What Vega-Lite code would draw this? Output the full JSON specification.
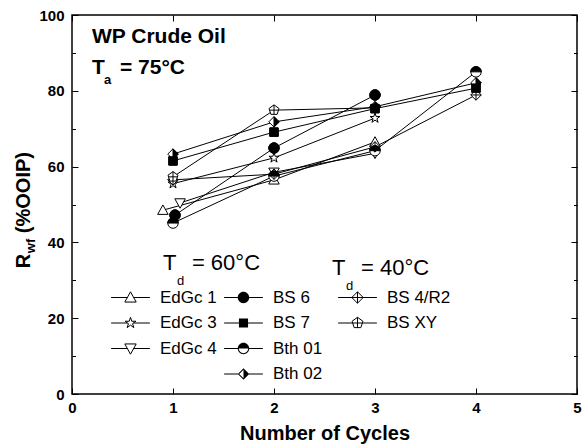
{
  "$schema": "https://vega.github.io/schema/vega-lite/v6.json",
  "width": 505,
  "height": 379,
  "autosize": {"type": "none"},
  "padding": {"left": 72, "top": 15, "right": 5, "bottom": 54},
  "background": "white",
  "data": {"values": [
    {"series": "EdGc 1", "cycle": 0.9, "rwf": 48.5},
    {"series": "EdGc 1", "cycle": 2, "rwf": 56.5},
    {"series": "EdGc 1", "cycle": 3, "rwf": 66.5},
    {"series": "EdGc 3", "cycle": 1, "rwf": 55.5},
    {"series": "EdGc 3", "cycle": 2, "rwf": 62.3},
    {"series": "EdGc 3", "cycle": 3, "rwf": 72.8},
    {"series": "EdGc 4", "cycle": 1.07, "rwf": 50.4},
    {"series": "EdGc 4", "cycle": 2, "rwf": 58.5},
    {"series": "EdGc 4", "cycle": 3, "rwf": 63.5},
    {"series": "BS 6", "cycle": 1.02, "rwf": 47.2},
    {"series": "BS 6", "cycle": 2, "rwf": 64.9},
    {"series": "BS 6", "cycle": 3, "rwf": 78.9},
    {"series": "BS 7", "cycle": 1, "rwf": 61.5},
    {"series": "BS 7", "cycle": 2, "rwf": 69.1},
    {"series": "BS 7", "cycle": 3, "rwf": 75.3},
    {"series": "BS 7", "cycle": 4, "rwf": 80.7},
    {"series": "Bth 01", "cycle": 1, "rwf": 45.1},
    {"series": "Bth 01", "cycle": 2, "rwf": 57.5},
    {"series": "Bth 01", "cycle": 3, "rwf": 64.2},
    {"series": "Bth 01", "cycle": 4, "rwf": 85.0},
    {"series": "Bth 02", "cycle": 1, "rwf": 63.3},
    {"series": "Bth 02", "cycle": 2, "rwf": 71.8},
    {"series": "Bth 02", "cycle": 3, "rwf": 75.8},
    {"series": "Bth 02", "cycle": 4, "rwf": 82.1},
    {"series": "BS 4/R2", "cycle": 1, "rwf": 56.5},
    {"series": "BS 4/R2", "cycle": 2, "rwf": 58.0},
    {"series": "BS 4/R2", "cycle": 3, "rwf": 65.2},
    {"series": "BS 4/R2", "cycle": 4, "rwf": 78.9},
    {"series": "BS XY", "cycle": 1, "rwf": 57.3},
    {"series": "BS XY", "cycle": 2, "rwf": 74.9},
    {"series": "BS XY", "cycle": 3, "rwf": 75.5}
  ]},
  "layer": [
    {
      "mark": {"type": "line", "color": "black", "strokeWidth": 1},
      "encoding": {
        "x": {"field": "cycle", "type": "quantitative", "scale": {"domain": [0, 5], "nice": false},
              "axis": {"orient": "bottom", "values": [0, 1, 2, 3, 4, 5], "tickSize": -6, "labelPadding": 12, "labelFlush": false, "title": "Number of Cycles", "titleFontSize": 20, "titleFontWeight": "bold", "titlePadding": 8}},
        "y": {"field": "rwf", "type": "quantitative", "scale": {"domain": [0, 100], "nice": false},
              "axis": {"orient": "left", "values": [0, 20, 40, 60, 80, 100], "tickSize": -6, "labelPadding": 14, "labelFlush": false, "title": null}},
        "detail": {"field": "series"}
      }
    },
    {
      "mark": {"type": "point", "filled": true, "fill": "white", "stroke": "black", "strokeWidth": 1, "size": 110, "opacity": 1},
      "encoding": {
        "x": {"field": "cycle", "type": "quantitative", "scale": {"domain": [0, 5], "nice": false},
              "axis": {"orient": "top", "values": [0, 1, 2, 3, 4, 5], "tickSize": -6, "labels": false, "title": null}},
        "y": {"field": "rwf", "type": "quantitative", "scale": {"domain": [0, 100], "nice": false},
              "axis": {"orient": "right", "values": [0, 20, 40, 60, 80, 100], "tickSize": -6, "labels": false, "title": null}},
        "shape": {"field": "series", "type": "nominal", "legend": null,
          "scale": {
            "domain": ["EdGc 1", "EdGc 3", "EdGc 4", "BS 6", "BS 7", "Bth 01", "Bth 02", "BS 4/R2", "BS XY"],
            "range": [
              "M0,-1L1,0.8L-1,0.8Z",
              "M0,-1L0.223,-0.307L0.951,-0.309L0.361,0.117L0.588,0.809L0,0.38L-0.588,0.809L-0.361,0.117L-0.951,-0.309L-0.223,-0.307Z",
              "M0,1L1,-0.8L-1,-0.8Z",
              "M-1,0A1,1 0 1 1 1,0A1,1 0 1 1 -1,0Z",
              "M-0.8,-0.8L0.8,-0.8L0.8,0.8L-0.8,0.8Z",
              "M-1,0A1,1 0 1 1 1,0A1,1 0 1 1 -1,0Z",
              "M0,-1L1,0L0,1L-1,0Z",
              "M0,-1L1,0L0,1L-1,0ZM0,-1L0,1M-1,0L1,0",
              "M0,-1L0.951,-0.309L0.588,0.809L-0.588,0.809L-0.951,-0.309ZM0,-1L0,0.809M-0.851,0L0.851,0"
            ]}}
      }
    },
    {
      "transform": [{"filter": {"field": "series", "oneOf": ["BS 6", "BS 7", "Bth 01", "Bth 02"]}}],
      "mark": {"type": "point", "filled": true, "fill": "black", "stroke": "black", "strokeWidth": 1, "size": 110, "opacity": 1},
      "encoding": {
        "x": {"field": "cycle", "type": "quantitative", "scale": {"domain": [0, 5], "nice": false}, "axis": null},
        "y": {"field": "rwf", "type": "quantitative", "scale": {"domain": [0, 100], "nice": false},
              "axis": {"orient": "left", "values": [10, 30, 50, 70, 90], "tickSize": -3.5, "labels": false, "title": null}},
        "shape": {"field": "series", "type": "nominal", "legend": null,
          "scale": {
            "domain": ["BS 6", "BS 7", "Bth 01", "Bth 02"],
            "range": [
              "M-1,0A1,1 0 1 1 1,0A1,1 0 1 1 -1,0Z",
              "M-0.8,-0.8L0.8,-0.8L0.8,0.8L-0.8,0.8Z",
              "M-1,0A1,1 0 0 1 1,0Z",
              "M0,-1L1,0L0,1Z"
            ]}}
      }
    },
    {
      "transform": [{"filter": "false"}],
      "mark": {"type": "point", "filled": false, "color": "black", "strokeWidth": 1, "opacity": 1},
      "encoding": {
        "x": {"field": "cycle", "type": "quantitative", "scale": {"domain": [0, 5], "nice": false}, "axis": null},
        "y": {"field": "rwf", "type": "quantitative", "scale": {"domain": [0, 100], "nice": false},
              "axis": {"orient": "right", "values": [10, 30, 50, 70, 90], "tickSize": -3.5, "labels": false, "title": null}},
        "shape": {"field": "series", "type": "nominal",
          "scale": {
            "domain": ["EdGc 1", "EdGc 3", "EdGc 4"],
            "range": [
              "M-3.4,0L-0.556,0M0.556,0L3.4,0M0,-1L1,0.8L-1,0.8Z",
              "M-3.4,0L-0.52,0M0.52,0L3.4,0M0,-1L0.223,-0.307L0.951,-0.309L0.361,0.117L0.588,0.809L0,0.38L-0.588,0.809L-0.361,0.117L-0.951,-0.309L-0.223,-0.307Z",
              "M-3.4,0L-0.556,0M0.556,0L3.4,0M0,1L1,-0.8L-1,-0.8Z"
            ]},
          "legend": {"orient": "none", "legendX": 50, "legendY": 274, "title": null, "symbolSize": 130, "symbolStrokeWidth": 1, "labelOffset": 21, "rowPadding": 7.5, "padding": 0}}
      }
    },
    {
      "transform": [{"filter": "false"}],
      "mark": {"type": "point", "filled": true, "color": "black", "opacity": 1},
      "encoding": {
        "shape": {"field": "series", "type": "nominal",
          "scale": {
            "domain": ["BS 6", "BS 7", "Bth 01", "Bth 02"],
            "range": [
              "M-3.4,-0.09L3.4,-0.09L3.4,0.09L-3.4,0.09ZM-1,0A1,1 0 1 1 1,0A1,1 0 1 1 -1,0Z",
              "M-3.4,-0.09L3.4,-0.09L3.4,0.09L-3.4,0.09ZM-0.8,-0.8L0.8,-0.8L0.8,0.8L-0.8,0.8Z",
              "M-3.4,-0.09L-0.95,-0.09L-0.95,0.09L-3.4,0.09ZM0.95,-0.09L3.4,-0.09L3.4,0.09L0.95,0.09ZM-1,0A1,1 0 0 1 1,0ZM1,0A1,1 0 0 1 -1,0L-0.82,0A0.82,0.82 0 0 0 0.82,0Z",
              "M-3.4,-0.09L-0.95,-0.09L-0.95,0.09L-3.4,0.09ZM0.95,-0.09L3.4,-0.09L3.4,0.09L0.95,0.09ZM0,-1L1,0L0,1ZM0,-1L-1,0L0,1L0,0.75L-0.75,0L0,-0.75Z"
            ]},
          "legend": {"orient": "none", "legendX": 163, "legendY": 274, "title": null, "symbolSize": 130, "symbolStrokeWidth": 0, "labelOffset": 21, "rowPadding": 7.5, "padding": 0}}
      }
    },
    {
      "transform": [{"filter": "false"}],
      "mark": {"type": "point", "filled": false, "color": "black", "strokeWidth": 1, "opacity": 1},
      "encoding": {
        "shape": {"field": "series", "type": "nominal",
          "scale": {
            "domain": ["BS 4/R2", "BS XY"],
            "range": [
              "M-3.4,0L3.4,0M0,-1L1,0L0,1L-1,0ZM0,-1L0,1",
              "M-3.4,0L-0.851,0M0.851,0L3.4,0M0,-1L0.951,-0.309L0.588,0.809L-0.588,0.809L-0.951,-0.309ZM0,-1L0,0.809M-0.851,0L0.851,0"
            ]},
          "legend": {"orient": "none", "legendX": 277, "legendY": 274, "title": null, "symbolSize": 130, "symbolStrokeWidth": 1, "labelOffset": 21, "rowPadding": 7.5, "padding": 0}}
      }
    },
    {
      "data": {"values": [{}]},
      "mark": {"type": "text", "text": "WP Crude Oil", "font": "Liberation Sans", "fontSize": 21, "fontWeight": "bold", "align": "left", "baseline": "alphabetic", "color": "black"},
      "encoding": {
        "x": {"datum": 0.198, "type": "quantitative", "scale": {"domain": [0, 5], "nice": false}, "axis": null},
        "y": {"datum": 92.6, "type": "quantitative", "scale": {"domain": [0, 100], "nice": false}, "axis": null}
      }
    },
    {
      "data": {"values": [{}]},
      "mark": {"type": "text", "text": "T", "font": "Liberation Sans", "fontSize": 21, "fontWeight": "bold", "align": "left", "baseline": "alphabetic", "color": "black"},
      "encoding": {
        "x": {"datum": 0.198, "type": "quantitative", "scale": {"domain": [0, 5], "nice": false}, "axis": null},
        "y": {"datum": 84.4, "type": "quantitative", "scale": {"domain": [0, 100], "nice": false}, "axis": null}
      }
    },
    {
      "data": {"values": [{}]},
      "mark": {"type": "text", "text": "a", "font": "Liberation Sans", "fontSize": 13, "fontWeight": "bold", "align": "left", "baseline": "alphabetic", "color": "black", "dx": 12, "dy": 10},
      "encoding": {
        "x": {"datum": 0.198, "type": "quantitative", "scale": {"domain": [0, 5], "nice": false}, "axis": null},
        "y": {"datum": 84.4, "type": "quantitative", "scale": {"domain": [0, 100], "nice": false}, "axis": null}
      }
    },
    {
      "data": {"values": [{}]},
      "mark": {"type": "text", "text": "= 75°C", "font": "Liberation Sans", "fontSize": 21, "fontWeight": "bold", "align": "left", "baseline": "alphabetic", "color": "black", "dx": 28},
      "encoding": {
        "x": {"datum": 0.198, "type": "quantitative", "scale": {"domain": [0, 5], "nice": false}, "axis": null},
        "y": {"datum": 84.4, "type": "quantitative", "scale": {"domain": [0, 100], "nice": false}, "axis": null}
      }
    },
    {
      "data": {"values": [{}]},
      "mark": {"type": "text", "text": "T", "font": "Liberation Sans", "fontSize": 22, "align": "left", "baseline": "alphabetic", "color": "black"},
      "encoding": {
        "x": {"datum": 0.9, "type": "quantitative", "scale": {"domain": [0, 5], "nice": false}, "axis": null},
        "y": {"datum": 32.7, "type": "quantitative", "scale": {"domain": [0, 100], "nice": false}, "axis": null}
      }
    },
    {
      "data": {"values": [{}]},
      "mark": {"type": "text", "text": "d", "font": "Liberation Sans", "fontSize": 13, "align": "left", "baseline": "alphabetic", "color": "black", "dx": 14, "dy": 15},
      "encoding": {
        "x": {"datum": 0.9, "type": "quantitative", "scale": {"domain": [0, 5], "nice": false}, "axis": null},
        "y": {"datum": 32.7, "type": "quantitative", "scale": {"domain": [0, 100], "nice": false}, "axis": null}
      }
    },
    {
      "data": {"values": [{}]},
      "mark": {"type": "text", "text": "= 60°C", "font": "Liberation Sans", "fontSize": 22, "align": "left", "baseline": "alphabetic", "color": "black", "dx": 29},
      "encoding": {
        "x": {"datum": 0.9, "type": "quantitative", "scale": {"domain": [0, 5], "nice": false}, "axis": null},
        "y": {"datum": 32.7, "type": "quantitative", "scale": {"domain": [0, 100], "nice": false}, "axis": null}
      }
    },
    {
      "data": {"values": [{}]},
      "mark": {"type": "text", "text": "T", "font": "Liberation Sans", "fontSize": 22, "align": "left", "baseline": "alphabetic", "color": "black"},
      "encoding": {
        "x": {"datum": 2.574, "type": "quantitative", "scale": {"domain": [0, 5], "nice": false}, "axis": null},
        "y": {"datum": 31.4, "type": "quantitative", "scale": {"domain": [0, 100], "nice": false}, "axis": null}
      }
    },
    {
      "data": {"values": [{}]},
      "mark": {"type": "text", "text": "d", "font": "Liberation Sans", "fontSize": 13, "align": "left", "baseline": "alphabetic", "color": "black", "dx": 14, "dy": 15},
      "encoding": {
        "x": {"datum": 2.574, "type": "quantitative", "scale": {"domain": [0, 5], "nice": false}, "axis": null},
        "y": {"datum": 31.4, "type": "quantitative", "scale": {"domain": [0, 100], "nice": false}, "axis": null}
      }
    },
    {
      "data": {"values": [{}]},
      "mark": {"type": "text", "text": "= 40°C", "font": "Liberation Sans", "fontSize": 22, "align": "left", "baseline": "alphabetic", "color": "black", "dx": 29},
      "encoding": {
        "x": {"datum": 2.574, "type": "quantitative", "scale": {"domain": [0, 5], "nice": false}, "axis": null},
        "y": {"datum": 31.4, "type": "quantitative", "scale": {"domain": [0, 100], "nice": false}, "axis": null}
      }
    },
    {
      "data": {"values": [{}]},
      "mark": {"type": "text", "text": "R", "font": "Liberation Sans", "fontSize": 20, "fontWeight": "bold", "align": "left", "baseline": "alphabetic", "color": "black", "angle": -90},
      "encoding": {
        "x": {"datum": -0.416, "type": "quantitative", "scale": {"domain": [0, 5], "nice": false}, "axis": null},
        "y": {"datum": 33.2, "type": "quantitative", "scale": {"domain": [0, 100], "nice": false}, "axis": null}
      }
    },
    {
      "data": {"values": [{}]},
      "mark": {"type": "text", "text": "wf", "font": "Liberation Sans", "fontSize": 13, "fontWeight": "bold", "align": "left", "baseline": "alphabetic", "color": "black", "angle": -90, "dx": 15, "dy": 5},
      "encoding": {
        "x": {"datum": -0.416, "type": "quantitative", "scale": {"domain": [0, 5], "nice": false}, "axis": null},
        "y": {"datum": 33.2, "type": "quantitative", "scale": {"domain": [0, 100], "nice": false}, "axis": null}
      }
    },
    {
      "data": {"values": [{}]},
      "mark": {"type": "text", "text": "(%OOIP)", "font": "Liberation Sans", "fontSize": 20, "fontWeight": "bold", "align": "left", "baseline": "alphabetic", "color": "black", "angle": -90, "dx": 35},
      "encoding": {
        "x": {"datum": -0.416, "type": "quantitative", "scale": {"domain": [0, 5], "nice": false}, "axis": null},
        "y": {"datum": 33.2, "type": "quantitative", "scale": {"domain": [0, 100], "nice": false}, "axis": null}
      }
    }
  ],
  "resolve": {
    "scale": {"shape": "independent"},
    "legend": {"shape": "independent"},
    "axis": {"x": "independent", "y": "independent"}
  },
  "config": {
    "view": {"stroke": "black", "strokeWidth": 1.5},
    "axis": {"domain": false, "grid": false, "tickColor": "black", "tickWidth": 1, "labelColor": "black", "labelFont": "Liberation Sans", "labelFontWeight": "bold", "labelFontSize": 15, "titleFont": "Liberation Sans", "titleColor": "black"},
    "legend": {"labelFont": "Liberation Sans", "labelFontSize": 17, "labelColor": "black"}
  }
}
